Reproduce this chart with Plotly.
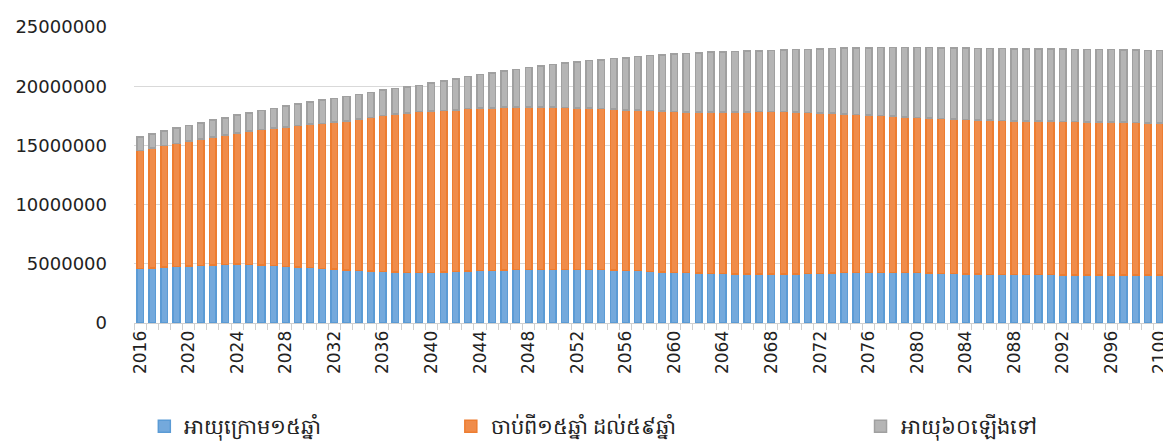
import plotly.graph_objects as go

years = list(range(2016, 2101))

under15 = [
    4620000, 4630000, 4730000, 4760000, 4820000, 4870000, 4900000, 4950000, 4980000, 4930000,
    4900000, 4850000, 4790000, 4730000, 4680000, 4620000, 4560000, 4480000, 4420000, 4390000,
    4340000, 4310000, 4280000, 4280000, 4280000, 4310000, 4330000, 4400000, 4420000, 4450000,
    4480000, 4510000, 4510000, 4540000, 4540000, 4540000, 4510000, 4510000, 4510000, 4480000,
    4450000, 4420000, 4370000, 4310000, 4280000, 4250000, 4230000, 4200000, 4170000, 4140000,
    4140000, 4140000, 4140000, 4140000, 4140000, 4170000, 4200000, 4230000, 4250000, 4250000,
    4250000, 4250000, 4250000, 4250000, 4250000, 4230000, 4200000, 4170000, 4140000, 4140000,
    4110000, 4110000, 4110000, 4090000, 4090000, 4090000, 4060000, 4060000, 4060000, 4060000,
    4060000, 4060000, 4060000, 4060000, 4060000,
]

age15_59 = [
    9940000, 10130000, 10260000, 10420000, 10560000, 10680000, 10820000, 10940000, 11080000, 11270000,
    11440000, 11600000, 11770000, 11950000, 12110000, 12250000, 12400000, 12590000, 12790000, 12960000,
    13180000, 13350000, 13470000, 13580000, 13640000, 13640000, 13670000, 13700000, 13730000, 13720000,
    13750000, 13750000, 13750000, 13720000, 13690000, 13660000, 13660000, 13640000, 13610000, 13580000,
    13550000, 13560000, 13580000, 13580000, 13580000, 13590000, 13610000, 13640000, 13670000, 13700000,
    13700000, 13720000, 13720000, 13720000, 13700000, 13630000, 13550000, 13490000, 13420000, 13360000,
    13330000, 13280000, 13220000, 13160000, 13110000, 13070000, 13070000, 13070000, 13050000, 13020000,
    13020000, 12990000, 12970000, 12990000, 12960000, 12960000, 12960000, 12960000, 12930000, 12930000,
    12900000, 12900000, 12870000, 12850000, 12820000,
]

age60plus = [
    1160000, 1210000, 1230000, 1270000, 1300000, 1350000, 1410000, 1440000, 1520000, 1550000,
    1610000, 1670000, 1750000, 1800000, 1860000, 1950000, 2000000, 2060000, 2090000, 2120000,
    2140000, 2160000, 2200000, 2220000, 2330000, 2470000, 2600000, 2700000, 2840000, 2960000,
    3040000, 3150000, 3300000, 3440000, 3610000, 3750000, 3890000, 4000000, 4110000, 4260000,
    4400000, 4530000, 4650000, 4760000, 4850000, 4930000, 4980000, 5040000, 5070000, 5100000,
    5120000, 5130000, 5160000, 5190000, 5240000, 5320000, 5410000, 5470000, 5550000, 5610000,
    5640000, 5720000, 5780000, 5840000, 5890000, 5950000, 5950000, 5980000, 6030000, 6030000,
    6060000, 6090000, 6080000, 6080000, 6110000, 6080000, 6110000, 6080000, 6110000, 6090000,
    6120000, 6090000, 6120000, 6110000, 6140000,
]

series_names = ["អាយុក្រោម១៥ឆ្នាំ", "ចាប់ពី១៥ឆ្នាំ ដល់៥៩ឆ្នាំ", "អាយុ៦០ឡើងទៅ"]
tick_years = [2016, 2020, 2024, 2028, 2032, 2036, 2040, 2044, 2048, 2052, 2056,
              2060, 2064, 2068, 2072, 2076, 2080, 2084, 2088, 2092, 2096, 2100]
y_ticks = [0, 5000000, 10000000, 15000000, 20000000, 25000000]

fills = ["#74a9dc", "#f08c4a", "#b5b5b5"]
edges = ["#5b9bd5", "#ed7d31", "#a0a0a0"]
legend_ids = ["legend2", "legend3", "legend4"]
legend_x = [0.0100, 0.307, 0.704]
values = [under15, age15_59, age60plus]

fig = go.Figure()
for name, vals, fc, ec, lg in zip(series_names, values, fills, edges, legend_ids):
    fig.add_trace(go.Bar(
        x=years, y=vals, name=name,
        marker=dict(color=fc, line=dict(color=ec, width=1.5)),
        legend=lg,
    ))

legend_font = dict(family="Noto Sans, DejaVu Sans, sans-serif", size=21, color="#222222")
legend_layouts = {}
for lg, lx in zip(legend_ids, legend_x):
    legend_layouts[lg] = dict(x=lx, y=-0.35, xanchor="left", yanchor="middle",
                              orientation="h", font=legend_font,
                              bgcolor="rgba(0,0,0,0)")

fig.update_layout(
    width=1171, height=448,
    barmode="stack", bargap=0.46,
    plot_bgcolor="white", paper_bgcolor="white",
    margin=dict(l=126, r=13, t=19, b=133, autoexpand=False),
    font=dict(family="DejaVu Sans, sans-serif", color="#333333"),
    showlegend=True,
    **legend_layouts,
)

fig.update_xaxes(
    range=[2015.5, 2100.5],
    tickmode="array", tickvals=tick_years, ticktext=[str(y) for y in tick_years],
    tickangle=-90, tickfont=dict(size=17, color="#222222"),
    ticks="", showgrid=False, zeroline=False,
    showline=True, linecolor="#d0d0d0", linewidth=1,
    minor=dict(ticks="outside", tick0=2015.5, dtick=1, ticklen=6,
               tickcolor="#d0d0d0", tickwidth=1, showgrid=False),
)
fig.update_yaxes(
    range=[0, 25000000],
    tickmode="array", tickvals=y_ticks, ticktext=[str(v) for v in y_ticks],
    tickfont=dict(size=18, color="#222222"),
    showgrid=True, gridcolor="#d9d9d9", gridwidth=1,
    zeroline=False, showline=False, ticks="", ticklabelstandoff=26,
)

fig.write_html("out.html")
